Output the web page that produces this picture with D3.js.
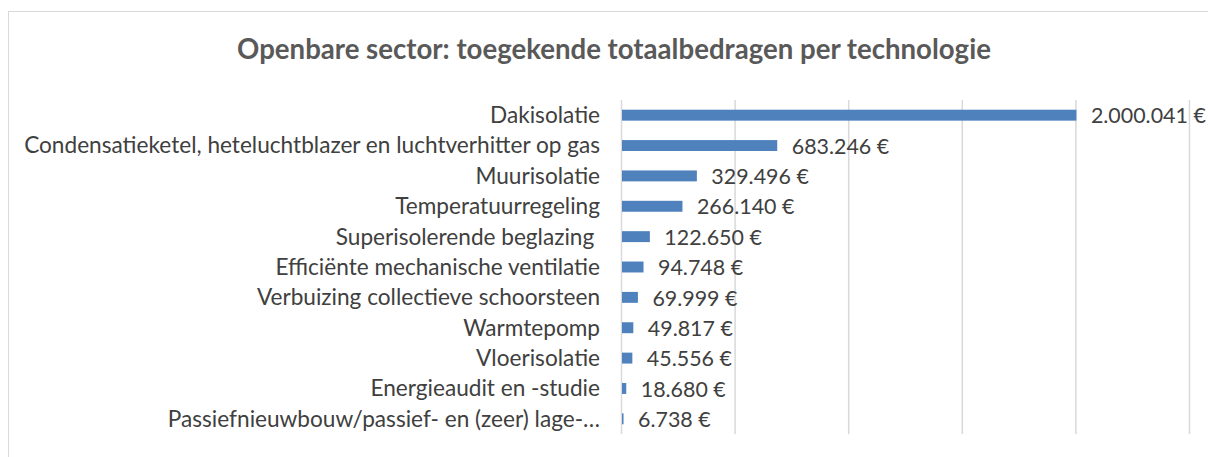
<!DOCTYPE html>
<html>
<head>
<meta charset="utf-8">
<script src="https://cdn.jsdelivr.net/npm/d3@7"></script>
<style>
  html, body { margin: 0; padding: 0; background: #fff; }
  svg { display: block; }
  text { font-family: Lato, "Open Sans", sans-serif; }
</style>
</head>
<body>
<svg id="chart" width="1208" height="457"></svg>
<script>
const title = "Openbare sector: toegekende totaalbedragen per technologie";
const categories = [
  "Dakisolatie",
  "Condensatieketel, heteluchtblazer en luchtverhitter op gas",
  "Muurisolatie",
  "Temperatuurregeling",
  "Superisolerende beglazing ",
  "Efficiënte mechanische ventilatie",
  "Verbuizing collectieve schoorsteen",
  "Warmtepomp",
  "Vloerisolatie",
  "Energieaudit en -studie",
  "Passiefnieuwbouw/passief- en (zeer) lage-…"
];
const values = [2000041, 683246, 329496, 266140, 122650, 94748, 69999, 49817, 45556, 18680, 6738];
const xTicks = [0, 500000, 1000000, 1500000, 2000000, 2500000];

const svg = d3.select("#chart");
const fmt = v => d3.format(",")(v).replace(/,/g, ".") + " €";

// chart border
svg.append("rect")
  .attr("x", 8.5).attr("y", 11.5)
  .attr("width", 1250).attr("height", 500)
  .attr("fill", "#fff").attr("stroke", "#d9d9d9").attr("stroke-width", 1);

const x = d3.scaleLinear().domain([0, 2500000]).range([621.5, 1189.5]);
const y = d3.scaleBand().domain(categories).range([100, 434])
  .paddingInner(0.64).paddingOuter(0.32);

// fit font sizes to target widths
function fit(text, weight, target, base) {
  const t = svg.append("text").attr("font-size", base).attr("font-weight", weight)
    .style("white-space", "pre").text(text);
  const w = t.node().getComputedTextLength();
  t.remove();
  return base * target / w;
}
const labelSize = fit(categories[1], "normal", 576, 18);
const titleSize = fit(title, "bold", 754, 24);
const valueSize = fit(fmt(values[0]), "normal", 115, 18);

// gridlines
svg.append("g").selectAll("line").data(xTicks).join("line")
  .attr("x1", d => x(d)).attr("x2", d => x(d))
  .attr("y1", 100).attr("y2", 434)
  .attr("stroke", "#d9d9d9").attr("stroke-width", 1.5);

// bars
svg.append("g").selectAll("rect").data(values).join("rect")
  .attr("x", x(0) + 0.5)
  .attr("y", (d, i) => y(categories[i]))
  .attr("width", d => x(d) - x(0))
  .attr("height", y.bandwidth())
  .attr("fill", "#4f81bd");

// category labels
svg.append("g").selectAll("text").data(categories).join("text")
  .attr("x", 600)
  .attr("y", d => y(d) + y.bandwidth() / 2)
  .attr("dy", "0.35em")
  .attr("text-anchor", "end")
  .attr("font-size", labelSize)
  .attr("fill", "#404040")
  .style("white-space", "pre")
  .text(d => d);

// value labels
svg.append("g").selectAll("text").data(values).join("text")
  .attr("x", d => x(d) + 15)
  .attr("y", (d, i) => y(categories[i]) + y.bandwidth() / 2)
  .attr("dy", "0.38em")
  .attr("font-size", valueSize)
  .attr("fill", "#404040")
  .text(d => fmt(d));

// title
svg.append("text")
  .attr("x", 614).attr("y", 59)
  .attr("text-anchor", "middle")
  .attr("font-size", titleSize)
  .attr("font-weight", "bold")
  .attr("fill", "#595959")
  .text(title);
</script>
</body>
</html>
